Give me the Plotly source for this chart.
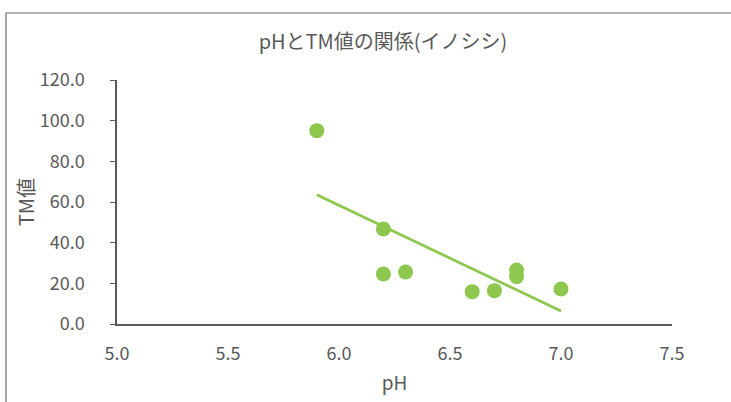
import numpy as np
import plotly.graph_objects as go

ph = [5.9, 6.2, 6.2, 6.3, 6.6, 6.7, 6.8, 6.8, 7.0]
tm = [95.1, 46.7, 24.6, 25.6, 15.9, 16.4, 26.5, 23.3, 17.2]

title_text = "pHとTM値の関係(イノシシ)"
x_title = "pH"
y_title = "TM値"

green = "#8DC74E"
grey = "#595959"
font_family = "Noto Sans CJK JP"

slope, intercept = np.polyfit(ph, tm, 1)
tx = [min(ph), max(ph)]
ty = [slope * v + intercept for v in tx]

W, H = 731, 402
L, R, T, B = 117, 731 - 672, 80, 402 - 324
pw, ph_ = W - L - R, H - T - B

fig = go.Figure()
fig.add_trace(go.Scatter(x=tx, y=ty, mode="lines",
                         line=dict(color=green, width=2.75), hoverinfo="skip"))
fig.add_trace(go.Scatter(x=ph, y=tm, mode="markers",
                         marker=dict(color=green, size=15, line=dict(width=0))))

fig.update_layout(
    width=W, height=H,
    margin=dict(l=L, r=R, t=T, b=B),
    paper_bgcolor="white", plot_bgcolor="white",
    showlegend=False,
    font=dict(family=font_family, color=grey, size=18),
    title=dict(text=title_text, x=383 / W, xanchor="center",
               y=1 - 42 / H, yanchor="middle",
               font=dict(size=20, color=grey, family=font_family)),
    xaxis=dict(range=[5.0, 7.5], dtick=0.5, tick0=5.0, tickformat=".1f",
               showgrid=False, zeroline=False, showline=True,
               linecolor=grey, linewidth=1.5, ticks="",
               ticklabelstandoff=13, tickfont=dict(size=18),
               title=dict(text=x_title, standoff=12, font=dict(size=19, color=grey))),
    yaxis=dict(range=[0, 120], dtick=20, tick0=0, tickformat=".1f",
               showgrid=False, zeroline=False, showline=True,
               linecolor=grey, linewidth=1.5, ticks="outside", ticklen=5,
               tickcolor=grey, tickwidth=1.2,
               ticklabelstandoff=22, tickfont=dict(size=18),
               title=dict(text=y_title, standoff=0, font=dict(size=20, color=grey))),
)

# chart frame border
fig.add_shape(type="rect", xref="paper", yref="paper",
              x0=(6 - L) / pw, x1=(760 - L) / pw,
              y0=(324 - 430) / ph_, y1=(324 - 13) / ph_,
              line=dict(color="#6b6b6b", width=1.2), fillcolor="rgba(0,0,0,0)",
              layer="below")

fig.write_html("out.html")
